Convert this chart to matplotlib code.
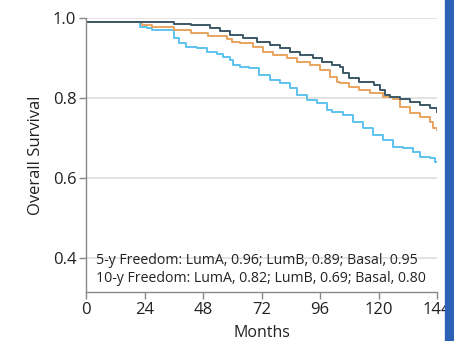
import matplotlib.pyplot as plt
from matplotlib.patches import Rectangle

# survival curves (months, overall survival)
luma_months = [0, 36, 43, 51, 55, 59, 64.5, 70, 75.5, 79.6, 83.7, 87.8, 93, 97, 101, 104, 105.5,
               108, 112, 118, 120.6, 122.7, 124.7, 128.8, 133, 137, 141, 144]
luma_surv = [0.989, 0.985, 0.982, 0.974, 0.968, 0.957, 0.949, 0.941, 0.932, 0.924, 0.916, 0.907,
             0.899, 0.891, 0.882, 0.878, 0.862, 0.849, 0.841, 0.832, 0.82, 0.807, 0.802, 0.797,
             0.791, 0.782, 0.774, 0.766]

lumb_months = [0, 22, 25, 27, 36, 38, 41, 45.5, 49.6, 53.7, 56, 59, 60.4, 63, 67, 71, 75.5, 79.6,
               83.7, 86.4, 90.5, 94.6, 98.7, 101, 105.5, 109.5, 113.6, 117.7, 122, 126, 130, 134,
               137, 141, 143, 144]
lumb_surv = [0.989, 0.978, 0.974, 0.97, 0.949, 0.937, 0.928, 0.924, 0.916, 0.909, 0.903, 0.895,
             0.882, 0.878, 0.874, 0.857, 0.845, 0.837, 0.824, 0.807, 0.795, 0.787, 0.77, 0.766,
             0.757, 0.741, 0.724, 0.707, 0.695, 0.678, 0.674, 0.666, 0.653, 0.649, 0.641, 0.641]

basal_months = [0, 23, 27, 36, 43, 50, 58, 60, 63, 68.6, 72.7, 76.8, 82.3, 86.4, 92, 96, 100, 103,
                104, 108, 112, 116.5, 122, 126, 128.8, 133, 137, 141, 142.5, 144]
basal_surv = [0.989, 0.982, 0.977, 0.97, 0.962, 0.956, 0.948, 0.941, 0.937, 0.928, 0.916, 0.907,
              0.899, 0.891, 0.882, 0.87, 0.853, 0.841, 0.837, 0.828, 0.82, 0.812, 0.803, 0.797,
              0.778, 0.762, 0.753, 0.741, 0.725, 0.72]

x_ticks = [0, 24, 48, 72, 96, 120, 144]
y_ticks = [0.4, 0.6, 0.8, 1.0]
note_lines = ["5-y Freedom: LumA, 0.96; LumB, 0.89; Basal, 0.95",
              "10-y Freedom: LumA, 0.82; LumB, 0.69; Basal, 0.80"]

plt.rcParams['font.family'] = ['Open Sans', 'DejaVu Sans']

fig = plt.figure(figsize=(4.54, 3.41), dpi=100)
ax = fig.add_axes([86 / 454, 1 - 292 / 341, 351 / 454, 274 / 341])

ax.step(lumb_months, lumb_surv, where='post', color='#5cc3ee', lw=1.4)
ax.step(basal_months, basal_surv, where='post', color='#e9a45e', lw=1.4)
ax.step(luma_months, luma_surv, where='post', color='#3b5866', lw=1.4)

ax.set_xlim(0, 144)
ax.set_ylim(0.315, 1.0)
ax.set_xticks(x_ticks)
ax.set_yticks(y_ticks)
ax.set_yticklabels([f'{v:.1f}' for v in y_ticks])
ax.grid(axis='y', color='#dedede', lw=1.2)
ax.set_axisbelow(True)

for side in ['top', 'right']:
    ax.spines[side].set_visible(False)
for side in ['left', 'bottom']:
    ax.spines[side].set_color('#888888')
    ax.spines[side].set_linewidth(1.0)
ax.tick_params(axis='both', colors='#888888', length=5, width=1.0, labelsize=12, labelcolor='#222222')
ax.tick_params(axis='x', pad=2)
ax.tick_params(axis='y', pad=2)

ax.set_xlabel('Months', fontsize=11.5, color='#222222', labelpad=5)
ax.set_ylabel('Overall Survival', fontsize=12, color='#222222', labelpad=6)

ax.text(4, 0.3925, note_lines[0], fontsize=10.2, color='#222222', va='center', ha='left')
ax.text(4, 0.35, note_lines[1], fontsize=10.2, color='#222222', va='center', ha='left')

# blue frame edge on the right of the screenshot
fig.patches.append(Rectangle((445 / 454, 0), 9 / 454, 1, transform=fig.transFigure,
                             color='#2b62b6', zorder=10))

fig.savefig('out.png', dpi=100)
